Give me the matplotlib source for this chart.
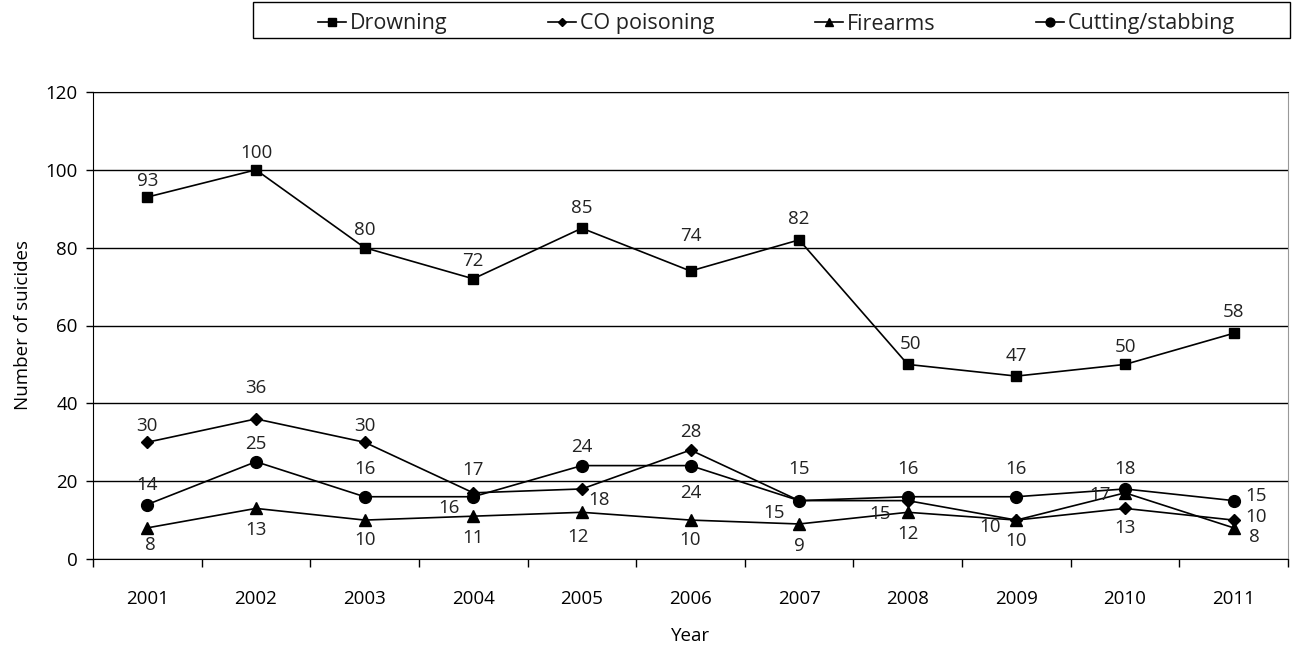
import numpy as np
import matplotlib
matplotlib.use('Agg')
import matplotlib.pyplot as plt

plt.rcParams.update({
    'font.family': 'Open Sans',
    'font.size': 13,
})

years = ['2001', '2002', '2003', '2004', '2005', '2006', '2007', '2008', '2009', '2010', '2011']
drowning = [93, 100, 80, 72, 85, 74, 82, 50, 47, 50, 58]
co_poisoning = [30, 36, 30, 17, 18, 28, 15, 15, 10, 13, 10]
firearms = [8, 13, 10, 11, 12, 10, 9, 12, 10, 17, 8]
cutting = [14, 25, 16, 16, 24, 24, 15, 16, 16, 18, 15]

# label offsets in pixels (dx, dy) for each point
drowning_off = [(0, 16), (0, 17), (0, 18), (0, 18), (0, 20), (0, 35), (0, 21), (3, 20), (0, 20), (0, 17), (0, 21)]
co_off = [(0, 16), (0, 31), (0, 16), (0, 23), (17, -11), (0, 18), (-25, -12), (-28, -13), (-26, -7), (0, -20), (22, 3)]
firearms_off = [(3, -17), (0, -22), (0, -20), (0, -22), (-4, -25), (0, -20), (0, -22), (0, -22), (0, -21), (-25, -2), (21, -9)]
cutting_off = [(0, 20), (0, 18), (0, 28), (-24, -11), (0, 19), (0, -27), (0, 32), (0, 28), (0, 28), (0, 20), (22, 5)]

fig = plt.figure(figsize=(12.92, 6.48), dpi=100)
ax = fig.add_axes([93 / 1292, 1 - 559 / 648, (1288 - 93) / 1292, (559 - 92) / 648])

x = np.arange(len(years))
series = [
    ('Drowning', drowning, 's', 7, drowning_off),
    ('CO poisoning', co_poisoning, 'D', 6, co_off),
    ('Firearms', firearms, '^', 8, firearms_off),
    ('Cutting/stabbing', cutting, 'o', 8.5, cutting_off),
]
for name, vals, marker, ms, offs in series:
    ax.plot(x, vals, color='black', lw=1.2, marker=marker, markersize=ms, label=name, zorder=3)
    for xi, v, (dx, dy) in zip(x, vals, offs):
        ax.annotate(str(v), (xi, v), xytext=(dx, dy), textcoords='offset pixels',
                    ha='center', va='center', fontsize=13.5, color='#222222', zorder=4)

ax.set_xlim(-0.5, len(years) - 0.5)
ax.set_ylim(0, 120)
ax.set_yticks(range(0, 121, 20))
ax.yaxis.grid(True, color='black', lw=1)
ax.set_axisbelow(True)
ax.set_xticks(x)
ax.set_xticklabels(years, fontsize=13.5)
ax.set_xticks(np.arange(-0.5, len(years), 1), minor=True)
ax.tick_params(axis='x', which='major', length=0, pad=22)
ax.tick_params(axis='x', which='minor', length=6, direction='out', width=1)
ax.tick_params(axis='y', length=5, direction='out', width=1, pad=6, labelsize=13.5)
for s in ['left', 'bottom', 'top']:
    ax.spines[s].set_color('black')
ax.spines['right'].set_color('#999999')

ax.set_xlabel('Year', labelpad=14, fontsize=13.5)
ax.set_ylabel('Number of suicides', labelpad=10, fontsize=13.5)

leg = fig.legend(loc='center', bbox_to_anchor=(258 / 1292, 1 - 42 / 648, (1290 - 253) / 1292, 36 / 648),
                 ncol=4, frameon=False, markerscale=0.75, columnspacing=4.7,
                 handlelength=1.3, handletextpad=0.15, borderaxespad=0, fontsize=15.5)
for t in leg.get_texts():
    t.set_color('#222222')
# legend frame spans the full box like the reference
fig.patches.append(plt.Rectangle((253 / 1292, 1 - 38 / 648), (1290 - 253) / 1292, 36 / 648,
                                 transform=fig.transFigure, fill=False, edgecolor='black', lw=1))

fig.savefig('out.png', dpi=100)
